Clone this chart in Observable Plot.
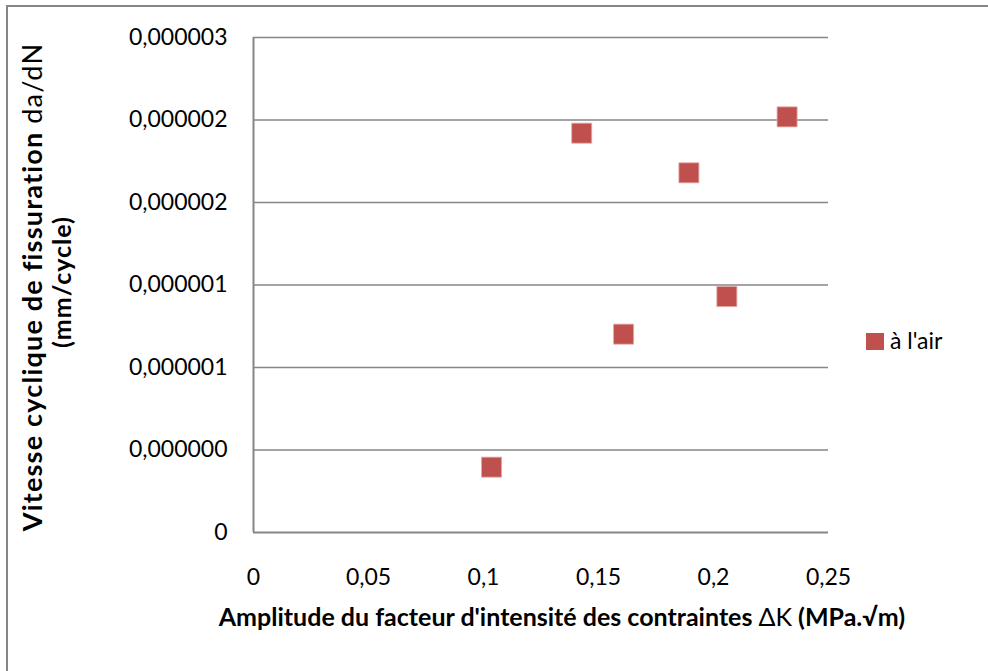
<!DOCTYPE html>
<html><head><meta charset="utf-8">
<script src="https://cdn.jsdelivr.net/npm/d3@7"></script>
<script src="https://cdn.jsdelivr.net/npm/@observablehq/plot@0.6"></script>
<style>
body{margin:0;background:#fff;overflow:hidden}
#chart{position:relative;width:988px;height:671px}
#frame{position:absolute;left:6px;top:5px;width:1000px;height:700px;border-left:2px solid #868686;border-top:2px solid #868686;pointer-events:none}
svg text{font-variant-ligatures:none}
</style>
</head><body><div id="chart"><div id="frame"></div></div>
<script>
// Data
const deltaK = [0.1035, 0.1427, 0.1609, 0.1893, 0.2058, 0.2320];
const dadN   = [0.396e-6, 2.420e-6, 1.202e-6, 2.180e-6, 1.430e-6, 2.519e-6];
const seriesName = "à l'air";
const xTicks = [0, 0.05, 0.1, 0.15, 0.2, 0.25];
const xTickLabels = ["0", "0,05", "0,1", "0,15", "0,2", "0,25"];
const yTicks = [0, 0.5e-6, 1e-6, 1.5e-6, 2e-6, 2.5e-6, 3e-6];
const yTickLabels = ["0", "0,000000", "0,000001", "0,000001", "0,000002", "0,000002", "0,000003"];
const xTitleBold = "Amplitude du facteur d'intensité des contraintes ";
const xTitleReg = "ΔK";
const xTitleBold2 = " (MPa.√m)";
const yTitleBold = "Vitesse cyclique de fissuration ";
const yTitleReg = "da/dN";
const yTitle2 = "(mm/cycle)";

const data = deltaK.map((x, i) => ({x, y: dadN[i], s: seriesName}));
const red = "#c0504d";
const grid = "#868686";
const font = "Lato, 'Open Sans', sans-serif";

const chart = Plot.plot({
  width: 988, height: 671,
  marginLeft: 253, marginRight: 160, marginTop: 37, marginBottom: 139,
  style: {fontFamily: font, fontSize: "23px", color: "#000", background: "transparent", overflow: "visible"},
  x: {domain: [0, 0.25]},
  y: {domain: [0, 3e-6]},
  marks: [
    Plot.ruleY(yTicks.slice(1), {stroke: grid, strokeWidth: 1.6}),
    Plot.ruleY([0], {stroke: grid, strokeWidth: 2}),
    Plot.ruleX([0], {stroke: grid, strokeWidth: 2}),
    Plot.axisX({ticks: xTicks, tickSize: 0, tickPadding: 36, tickFormat: d => xTickLabels[xTicks.indexOf(d)], label: null, fill: "#000"}),
    Plot.axisY({ticks: yTicks, tickSize: 0, tickPadding: 26, tickFormat: d => yTickLabels[yTicks.indexOf(d)], label: null, fill: "#000"}),
    Plot.dot(data, {x: "x", y: "y", symbol: "square", r: 11.3, fill: red, stroke: "#e3a9a7", strokeWidth: 0.8})
  ]
});
document.getElementById("chart").appendChild(chart);

const svg = d3.select(chart);
// X title
const xt = svg.append("text")
  .attr("x", 562).attr("y", 626)
  .attr("text-anchor", "middle")
  .style("font-family", font).style("font-size", "25px");
xt.append("tspan").attr("font-weight", "bold").text(xTitleBold);
xt.append("tspan").attr("font-weight", "normal").text(xTitleReg);
xt.append("tspan").attr("font-weight", "bold").text(xTitleBold2);

// Y title (two lines, rotated)
const yt = svg.append("text")
  .attr("transform", "translate(42,287) rotate(-90)")
  .attr("text-anchor", "middle")
  .style("font-family", font).style("font-size", "27px").style("letter-spacing", "1.2px");
yt.append("tspan").attr("font-weight", "bold").text(yTitleBold);
yt.append("tspan").attr("font-weight", "normal").text(yTitleReg);
svg.append("text")
  .attr("transform", "translate(71,282) rotate(-90)")
  .attr("text-anchor", "middle")
  .attr("font-weight", "bold")
  .style("font-family", font).style("font-size", "25px").style("letter-spacing", "1px")
  .text(yTitle2);

// Legend
const lg = svg.append("g").attr("transform", "translate(866,333)");
lg.append("rect").attr("width", 18).attr("height", 17).attr("fill", red);
lg.append("text").attr("x", 24).attr("y", 16).attr("text-anchor", "start")
  .style("font-family", font).style("font-size", "23px").text(seriesName);
</script>
</body></html>
